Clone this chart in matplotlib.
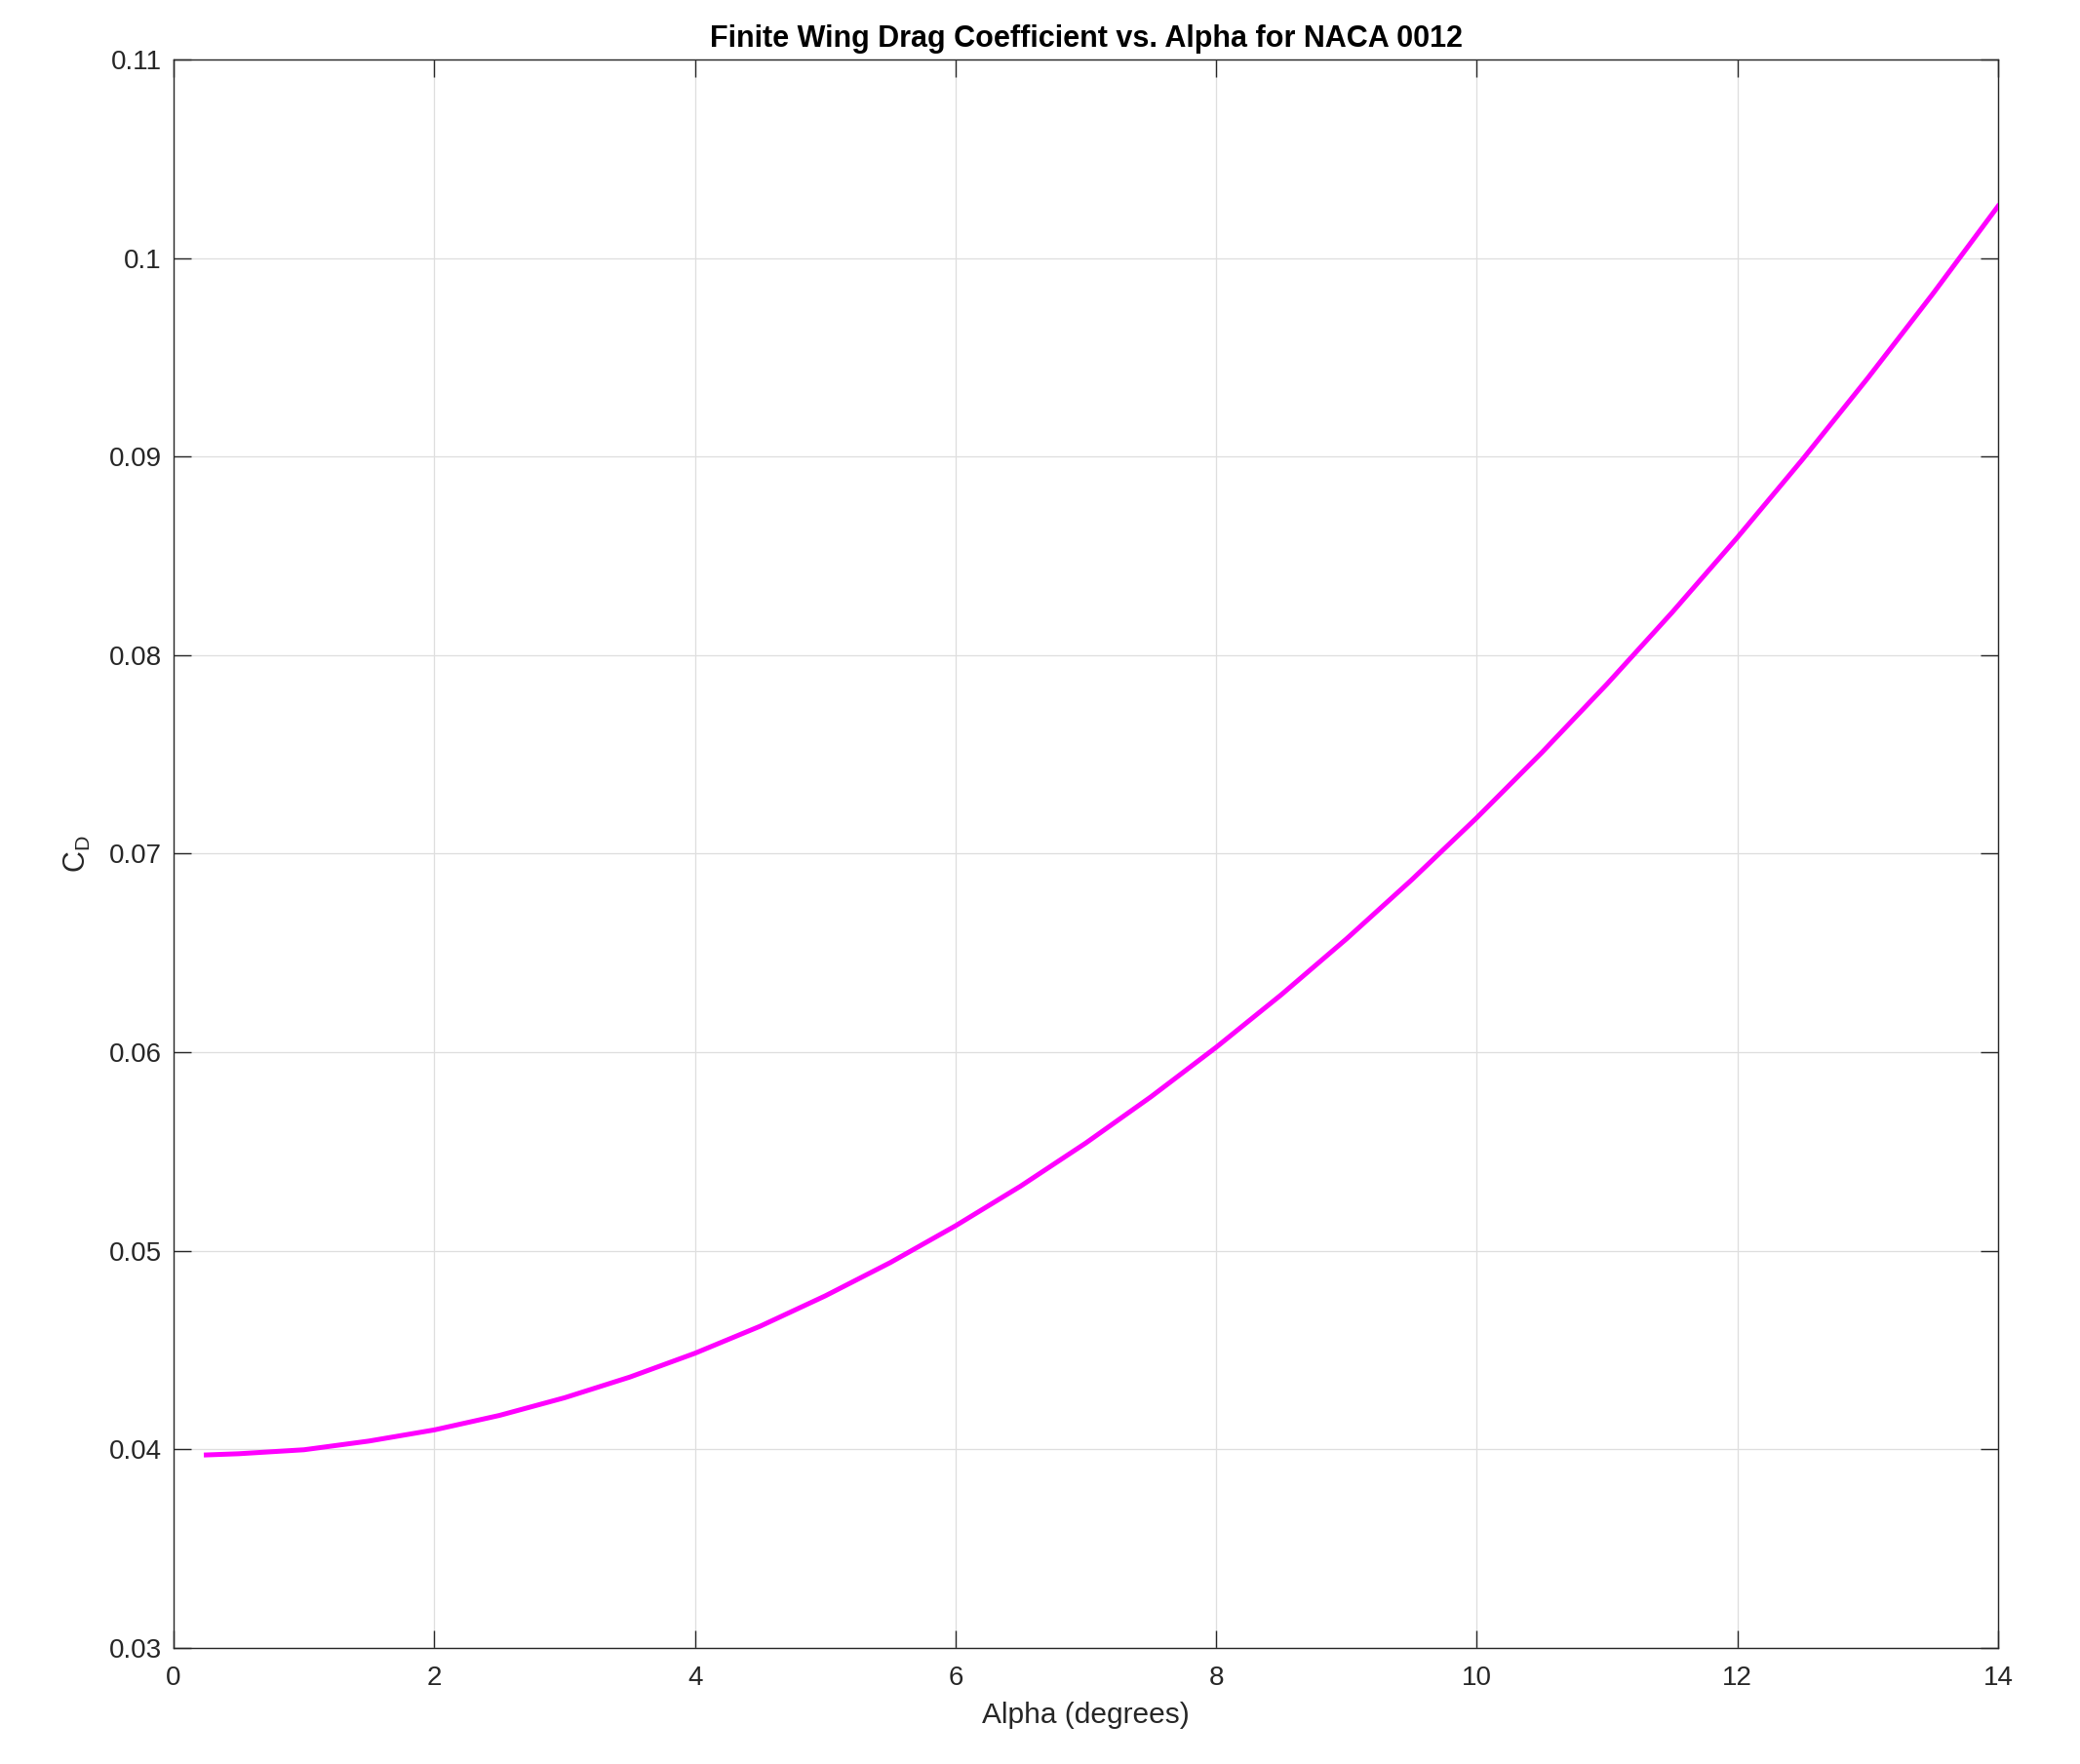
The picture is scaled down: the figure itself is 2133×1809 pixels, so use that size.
import matplotlib
matplotlib.use("Agg")
import matplotlib.pyplot as plt
import matplotlib as mpl

plt.rcParams["font.family"] = ["Liberation Sans", "DejaVu Sans"]
mpl.rcParams['xtick.direction'] = 'in'
mpl.rcParams['ytick.direction'] = 'in'
mpl.rcParams['mathtext.default'] = 'regular'

# values
alpha = [0.25, 0.5, 1, 1.5, 2, 2.5, 3, 3.5, 4, 4.5, 5, 5.5, 6, 6.5, 7, 7.5,
         8, 8.5, 9, 9.5, 10, 10.5, 11, 11.5, 12, 12.5, 13, 13.5, 14]
cd = [0.03972, 0.03978, 0.03998, 0.04042, 0.04098, 0.04171, 0.04260, 0.04364,
      0.04484, 0.04620, 0.04773, 0.04941, 0.05126, 0.05326, 0.05543, 0.05776,
      0.06025, 0.06290, 0.06571, 0.06868, 0.07181, 0.07510, 0.07855, 0.08216,
      0.08593, 0.08986, 0.09395, 0.09820, 0.10261]

xticks = [0, 2, 4, 6, 8, 10, 12, 14]
yticks = [0.03, 0.04, 0.05, 0.06, 0.07, 0.08, 0.09, 0.1, 0.11]
ytick_labels = ["0.03", "0.04", "0.05", "0.06", "0.07", "0.08", "0.09", "0.1", "0.11"]

f = plt.figure(figsize=(21.33, 18.09), dpi=100)
ax = f.add_axes([0.0835, 0.0658, 0.8771, 0.9005])

ax.plot(alpha, cd, color='#ff00ff', linewidth=3.6, zorder=3)

ax.set_xlim(0, 14)
ax.set_ylim(0.03, 0.11)
ax.set_xticks(xticks)
ax.set_yticks(yticks)
ax.set_yticklabels(ytick_labels)

ax.grid(True, color='#dedede', linewidth=0.9)
ax.set_axisbelow(True)

for s in ax.spines.values():
    s.set_color('#262626')
    s.set_linewidth(1.0)

ax.xaxis.set_ticks_position('both')
ax.yaxis.set_ticks_position('both')
ax.tick_params(axis='both', length=13, width=1.0, color='#262626',
               labelsize=20, labelcolor='#262626')
ax.tick_params(axis='x', pad=13)
ax.tick_params(axis='y', pad=9)

ax.set_xlabel('Alpha (degrees)', fontsize=21.5, color='#262626', labelpad=8)
ax.set_ylabel(r'$C_D$', fontsize=22, color='#262626', labelpad=12)
ax.set_title('Finite Wing Drag Coefficient vs. Alpha for NACA 0012',
             fontsize=22, fontweight='bold', pad=9)

save_loc = 'out.png'
plt.savefig(save_loc, dpi=100)
